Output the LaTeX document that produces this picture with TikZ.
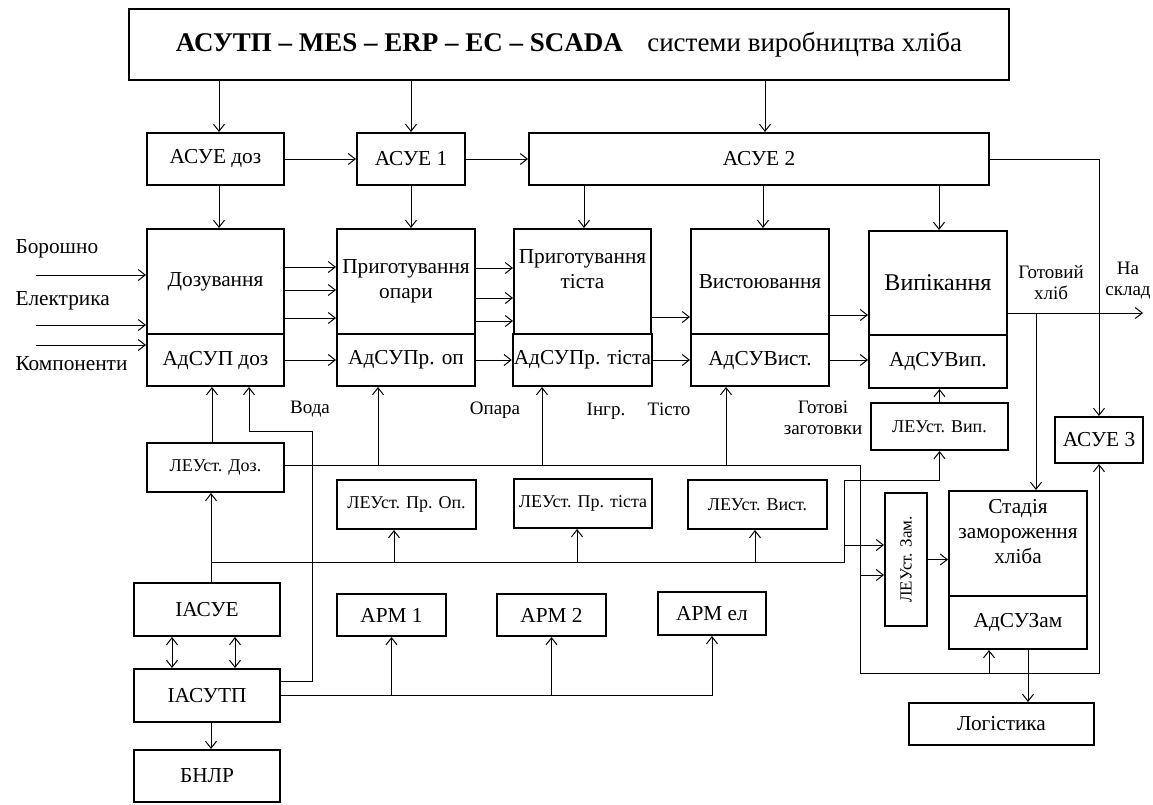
\documentclass[tikz,border=0pt]{standalone}
\usepackage{fontspec}
\setmainfont{Liberation Serif}
\usetikzlibrary{arrows.meta}

\begin{document}
\begin{tikzpicture}[x=1pt, y=-1pt, >={Straight Barb[length=7pt,width=11pt]},
  every node/.style={font=\fontsize{21.3}{25}\selectfont},
  blok/.style={draw, line width=2pt, align=center, inner sep=1pt},
  lev/.style={blok, font=\fontsize{18}{21}\selectfont},
  txt/.style={align=center, font=\fontsize{19}{21}\selectfont},
  arr/.style={->, line width=1pt}]

  \useasboundingbox (0,0) rectangle (1153,804);

  % Top system
  \node[blok, minimum width=880pt, minimum height=71pt, font=\fontsize{27}{30}\selectfont] (top) at (569,44.5)
    {\textbf{АСУТП – MES – ERP – EC – SCADA}\hspace{0.9em}системи виробництва хліба};

  % ACUE row
  \node[blok, minimum width=137pt, minimum height=52pt] (asdoz) at (215.5,159) {АСУЕ доз};
  \node[blok, minimum width=108pt, minimum height=52pt] (as1) at (411,159) {АСУЕ 1};
  \node[blok, minimum width=460pt, minimum height=52pt] (as2) at (759,159) {АСУЕ 2};
  \node[blok, minimum width=88pt, minimum height=46pt] (as3) at (1099,440) {АСУЕ 3};

  % Stages
  \node[blok, minimum width=137pt, minimum height=105pt] (doz) at (215.5,281.5) {Дозування};
  \node[blok, minimum width=137pt, minimum height=52pt] (dozb) at (215.5,360) {АдСУП доз};
  \node[blok, minimum width=138pt, minimum height=105pt] (opr) at (406,281.5) {Приготування\\опари};
  \node[blok, minimum width=138pt, minimum height=52pt] (oprb) at (406,360) {АдСУПр. оп};
  \node[blok, minimum width=137pt, minimum height=105pt] (tst) at (582.5,281.5) {Приготування\\тіста\\~};
  \node[blok, minimum width=137pt, minimum height=52pt] (tstb) at (582.5,360) {АдСУПр. тіста};
  \node[blok, minimum width=138pt, minimum height=105pt] (vst) at (760,281.5) {Вистоювання};
  \node[blok, minimum width=138pt, minimum height=52pt] (vstb) at (760,360) {АдСУВист.};
  \node[blok, minimum width=138pt, minimum height=104pt, font=\fontsize{24}{28}\selectfont] (vyp) at (938,283) {Випікання};
  \node[blok, minimum width=138pt, minimum height=53pt] (vypb) at (938,361.5) {АдСУВип.};
  \node[blok, minimum width=138pt, minimum height=105pt] (stz) at (1018,543.5) {Стадія\\замороження\\хліба\\~};
  \node[blok, minimum width=138pt, minimum height=53pt] (stzb) at (1018,622.5) {АдСУЗам};
  \node[blok, minimum width=185pt, minimum height=42pt] (log) at (1001.5,724) {Логістика};

  % Local units
  \node[lev, minimum width=137pt, minimum height=49pt] (lzd) at (215.5,467.5) {ЛЕУст. Доз.};
  \node[lev, minimum width=139pt, minimum height=49pt] (lzo) at (406.5,504.5) {ЛЕУст. Пр. Оп.};
  \node[lev, minimum width=138pt, minimum height=49pt] (lzt) at (583,503.5) {ЛЕУст. Пр. тіста};
  \node[lev, minimum width=139pt, minimum height=49pt] (lzv) at (757.5,504.5) {ЛЕУст. Вист.};
  \node[lev, minimum width=137pt, minimum height=47pt] (lzp) at (939.5,426.5) {ЛЕУст. Вип.};
  \node[lev, minimum width=133pt, minimum height=42pt, rotate=90, font=\fontsize{17}{20}\selectfont] (lzz) at (906,559.5) {ЛЕУст. Зам.};

  % Information systems
  \node[blok, minimum width=146pt, minimum height=53pt] (iasue) at (207,609.5) {ІАСУЕ};
  \node[blok, minimum width=146pt, minimum height=53pt] (iasutp) at (207,695.5) {ІАСУТП};
  \node[blok, minimum width=146pt, minimum height=52pt] (bnlr) at (207,776) {БНЛР};
  \node[blok, minimum width=109pt, minimum height=42pt] (arm1) at (391.5,615) {АРМ 1};
  \node[blok, minimum width=109pt, minimum height=42pt] (arm2) at (551.5,615) {АРМ 2};
  \node[blok, minimum width=108pt, minimum height=43pt] (armel) at (712,613.5) {АРМ ел};

  % Inputs and labels
  \node[anchor=west] (bor) at (12,249) {Борошно};
  \node[anchor=west] (ele) at (12,301) {Електрика};
  \node[anchor=west] (kom) at (12,364) {Компоненти};
  \node[txt] (voda) at (310,409) {Вода};
  \node[txt] (opara) at (495,410) {Опара};
  \node[txt] (ingr) at (606,411) {Інгр.};
  \node[txt] (tisto) at (669,409) {Тісто};
  \node[txt] (gzag) at (823,418) {Готові\\заготовки};
  \node[txt] (ghlib) at (1051,283) {Готовий\\хліб};
  \node[txt] (nskl) at (1128,281) {На\\склад};

  \coordinate (in1) at (36,275);
  \coordinate (in2) at (36,325);
  \coordinate (in3) at (36,345);
  \coordinate (sklad) at (1143,313);
  \coordinate (vih) at (1036,313);

  % from top
  \draw[arr] (top.south -| 219,0) -- (asdoz.north -| 219,0);
  \draw[arr] (top.south -| as1.north) -- (as1.north);
  \draw[arr] (top.south -| 765,0) -- (as2.north -| 765,0);
  \draw[arr] (asdoz) -- (as1);
  \draw[arr] (as1) -- (as2);
  \draw[arr] (as2.east) -| (as3.north);
  \draw[arr] (asdoz.south -| 219,0) -- (doz.north -| 219,0);
  \draw[arr] (as1.south) -- (as1.south |- opr.north);
  \foreach \x/\n in {584/tst, 763/vst, 939/vyp}
    \draw[arr] (as2.south -| \x,0) -- (\n.north -| \x,0);

  % material flow
  \foreach \c in {in1,in2,in3}
    \draw[arr] (\c) -- (\c -| doz.west);
  \foreach \y in {267,290,318}
    \draw[arr] (doz.east |- 0,\y) -- (opr.west |- 0,\y);
  \foreach \y in {268,298,321}
    \draw[arr] (opr.east |- 0,\y) -- (tst.west |- 0,\y);
  \draw[arr] (tst.east |- 0,317) -- (vst.west |- 0,317);
  \draw[arr] (vst.east |- 0,315) -- (vyp.west |- 0,315);
  \draw[arr] (dozb) -- (oprb);
  \draw[arr] (oprb) -- (tstb);
  \draw[arr] (tstb) -- (vstb);
  \draw[arr] (vstb.east) -- (vstb.east -| vypb.west);
  \draw[arr] (vyp.east |- sklad) -- (sklad);
  \draw[arr] (vih) -- (vih |- stz.north);

  % local units up
  \draw[arr] (lzd.north -| 212,0) -- (dozb.south -| 212,0);
  \draw[arr] (lzp.north) -- (lzp.north |- vypb.south);
  \draw[arr] (lzz.south) -- (lzz.south -| stz.west);

  % water
  \draw[arr] (iasutp.east |- 0,681) -| (312,431) -| (dozb.south -| 249,0);

  % line from LEU doz
  \draw[arr] (lzd.east |- 0,465) -| (860,673) -| (as3.south);
  \foreach \x/\n in {378/oprb, 542/tstb, 726/vstb}
    \draw[arr] (\x,465) -- (\n.south -| \x,0);
  \draw[arr] (860,575) -- (lzz.north |- 0,575);
  \draw[arr] (989,673) -- (stzb.south -| 989,0);

  % bus from IASUE
  \draw[arr] (iasue.north -| 211,0) -- (lzd.south -| 211,0);
  \draw[arr] (211,562) -| (844,480) -| (lzp.south);
  \foreach \x/\n in {394/lzo, 577/lzt, 755/lzv}
    \draw[arr] (\x,562) -- (\n.south -| \x,0);
  \draw[arr] (844,545) -- (lzz.north |- 0,545);

  % IASUTP
  \foreach \x in {172,235}
    \draw[<->, line width=1pt] (iasue.south -| \x,0) -- (iasutp.north -| \x,0);
  \draw[arr] (iasutp.south -| 211,0) -- (bnlr.north -| 211,0);
  \draw[arr] (iasutp.east) -| (armel.south);
  \foreach \n in {arm1, arm2}
    \draw[arr] (\n.south |- iasutp.east) -- (\n.south);
  \draw[arr] (stzb.south -| 1028,0) -- (log.north -| 1028,0);
\end{tikzpicture}
\end{document}
